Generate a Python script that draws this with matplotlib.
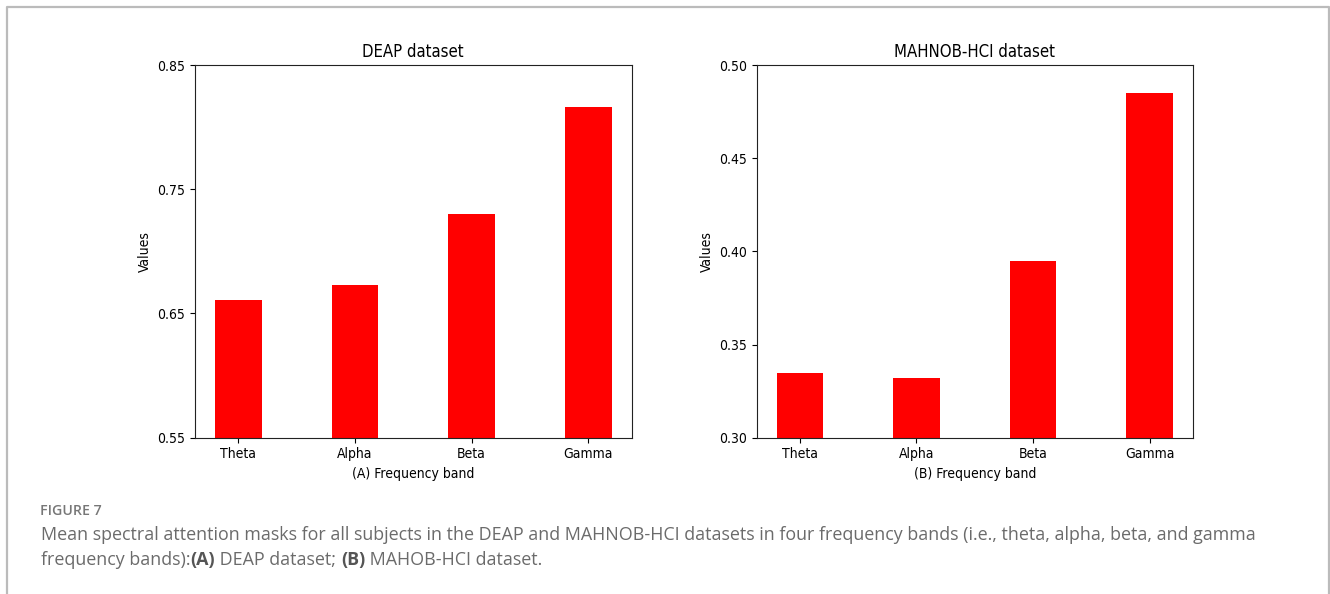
import matplotlib.pyplot as plt
import numpy as np

bands = ["Theta", "Alpha", "Beta", "Gamma"]
deap_vals = [0.661, 0.673, 0.730, 0.8165]
mahnob_vals = [0.335, 0.332, 0.395, 0.485]
deap_ticks = [0.55, 0.65, 0.75, 0.85]
mahnob_ticks = [0.30, 0.35, 0.40, 0.45, 0.50]

plt.rcParams['font.stretch'] = 'condensed'

fig = plt.figure(figsize=(13.3, 5.94), dpi=100)

def draw_panel(rect, vals, ticks, title, xlabel):
    ax = fig.add_axes(rect)
    x = np.arange(len(bands))
    ax.bar(x, vals, width=0.4, color="red")
    ax.set_xticks(x)
    ax.set_xticklabels(bands, fontsize=10)
    ax.set_yticks(ticks)
    ax.set_yticklabels(["%.2f" % t for t in ticks], fontsize=10)
    ax.set_ylim(ticks[0], ticks[-1])
    ax.set_title(title, fontsize=12)
    ax.set_xlabel(xlabel, fontsize=10)
    ax.set_ylabel("Values", fontsize=10)
    for s in ax.spines.values():
        s.set_color("#222222")
    return ax

draw_panel([0.1466, 0.2631, 0.3283, 0.6274], deap_vals, deap_ticks,
           "DEAP dataset", "(A) Frequency band")
draw_panel([0.5690, 0.2631, 0.3278, 0.6274], mahnob_vals, mahnob_ticks,
           "MAHNOB-HCI dataset", "(B) Frequency band")

# frame around the figure (open at the bottom)
W, H = 1330.0, 594.0
fx = [7 / W, 7 / W, 1329 / W, 1329 / W]
fy = [0.0, 1 - 7 / H, 1 - 7 / H, 0.0]
fig.add_artist(plt.Line2D(fx, fy, transform=fig.transFigure,
                          color="#bbbbbb", lw=1.6))

# caption
cap_font = ["Open Sans", "DejaVu Sans"]
gray = "#6b6b6b"
fig.text(40 / W, 1 - 511 / H, "FIGURE 7", family=cap_font, fontsize=10.2,
         color="#777777", weight="semibold", va="center", stretch="normal")
fig.text(41 / W, 1 - 535 / H,
         "Mean spectral attention masks for all subjects in the DEAP and "
         "MAHNOB-HCI datasets in four frequency bands (i.e., theta, alpha, "
         "beta, and gamma",
         family=cap_font, fontsize=12.85, color=gray, va="center",
         stretch="normal")

fig.canvas.draw()
renderer = fig.canvas.get_renderer()
parts = [("frequency bands):", "normal", gray),
         ("(A)", "bold", "#555555"),
         (" DEAP dataset; ", "normal", gray),
         ("(B)", "bold", "#555555"),
         (" MAHOB-HCI dataset.", "normal", gray)]
xpos = 41 / W
for txt, wt, col in parts:
    t = fig.text(xpos, 1 - 560 / H, txt, family=cap_font, fontsize=12.85,
                 color=col, weight=wt, va="center", stretch="normal")
    bb = t.get_window_extent(renderer)
    xpos += bb.width / W

fig.savefig("out.png", dpi=100)
